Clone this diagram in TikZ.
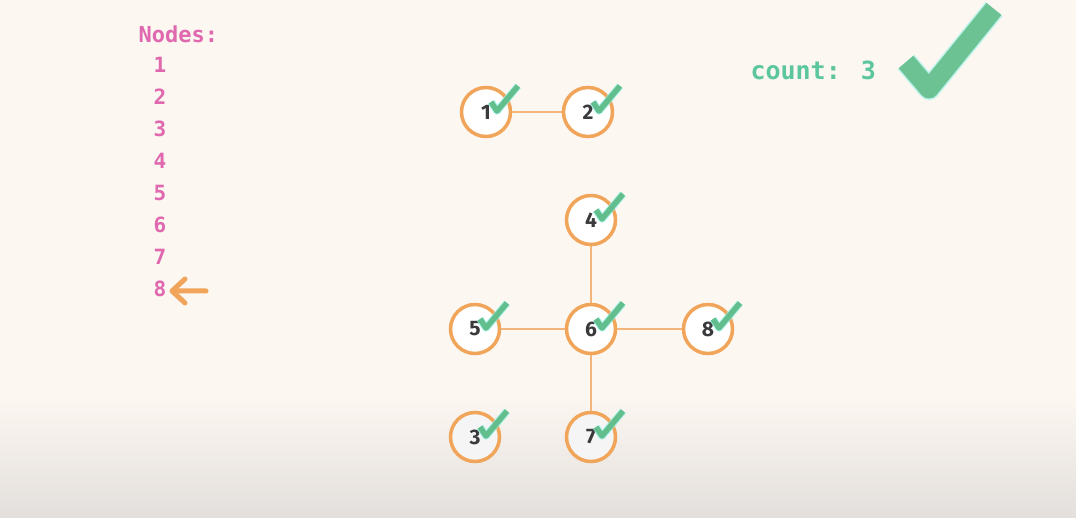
\documentclass[tikz,border=0pt]{standalone}
\usepackage{fontspec}
\setmainfont{Fira Sans}
\newfontfamily\monofont{DejaVu Sans Mono}
\usetikzlibrary{calc}
\definecolor{bgcream}{HTML}{FCF7F1}
\definecolor{bgshade}{HTML}{E3DFDC}
\definecolor{ringorange}{HTML}{F0A55A}
\definecolor{edgeorange}{HTML}{F3B57C}
\definecolor{pinktext}{HTML}{DF68AE}
\definecolor{greentext}{HTML}{5CC79E}
\definecolor{checkgreen}{HTML}{62BE8C}
\definecolor{bigcheck}{HTML}{6CC293}
\definecolor{glowcyan}{HTML}{8FF0E6}
\definecolor{labelgray}{HTML}{3A3A3C}
\tikzset{
  gnode/.style={circle, draw=ringorange, line width=3.5pt, fill=white, minimum size=49pt, inner sep=0pt, font=\fontsize{21}{23}\selectfont\bfseries, text=labelgray},
  gedge/.style={draw=edgeorange, line width=2.5pt},
  smallglow/.style={draw=glowcyan, line width=7.5pt, line cap=butt, line join=round, opacity=0.7},
  smallcheck/.style={draw=checkgreen, line width=5.5pt, line cap=butt, line join=round},
  pinklabel/.style={text=pinktext, font=\monofont\bfseries\fontsize{21}{23}\selectfont},
}
\newcommand{\nodecheck}[1]{%
  \draw[smallglow] ($(#1)+(5,-10)$) -- ($(#1)+(11,-1)$) -- ($(#1)+(32,-26)$);
  \draw[smallcheck] ($(#1)+(5,-10)$) -- ($(#1)+(11,-1)$) -- ($(#1)+(32,-26)$);
}
\begin{document}
\begin{tikzpicture}[x=1pt,y=-1pt]
\useasboundingbox (0,0) rectangle (1076,518);
\fill[bgcream] (0,0) rectangle (1076,518);
\shade[top color=bgcream, bottom color=bgshade] (0,395) rectangle (1076,518);

% list
\node[pinklabel, anchor=west, font=\monofont\bfseries\fontsize{22}{24}\selectfont] (title) at (135,34) {Nodes:};
\foreach \i in {1,...,8} {
  \node[pinklabel] (l\i) at (160,{65+32*(\i-1)}) {\i};
}
\coordinate (arrtail) at (206,291);
\coordinate (arrtip) at (172,291);
\draw[draw=ringorange, line width=5pt, line cap=round, line join=round]
  (arrtail) -- (arrtip) -- ++(13,-12) (arrtip) -- ++(13,12);

% count
\node[text=greentext, font=\monofont\bfseries\fontsize{25}{28}\selectfont, anchor=west] (count) at (747,70) {count: 3};
\coordinate (bc1) at (906,62);
\coordinate (bc2) at (929,89);
\coordinate (bc3) at (994,9);
\draw[draw=glowcyan, line width=22pt, line join=round, opacity=0.6] (bc1) -- (bc2) -- (bc3);
\draw[draw=bigcheck, line width=19pt, line join=round] (bc1) -- (bc2) -- (bc3);

% graph
\node[gnode] (n1) at (486,112) {1};
\node[gnode] (n2) at (588,112) {2};
\node[gnode] (n4) at (591,220) {4};
\node[gnode] (n5) at (475,329) {5};
\node[gnode] (n6) at (591,329) {6};
\node[gnode] (n8) at (708,329) {8};
\node[gnode, fill=white!96!black] (n3) at (475,437) {3};
\node[gnode, fill=white!96!black] (n7) at (591,437) {7};
\draw[gedge] (n1) -- (n2);
\draw[gedge] (n4) -- (n6);
\draw[gedge] (n5) -- (n6);
\draw[gedge] (n6) -- (n8);
\draw[gedge] (n6) -- (n7);
\foreach \n in {n1,n2,n3,n4,n5,n6,n7,n8} { \nodecheck{\n.center} }
\end{tikzpicture}
\end{document}
